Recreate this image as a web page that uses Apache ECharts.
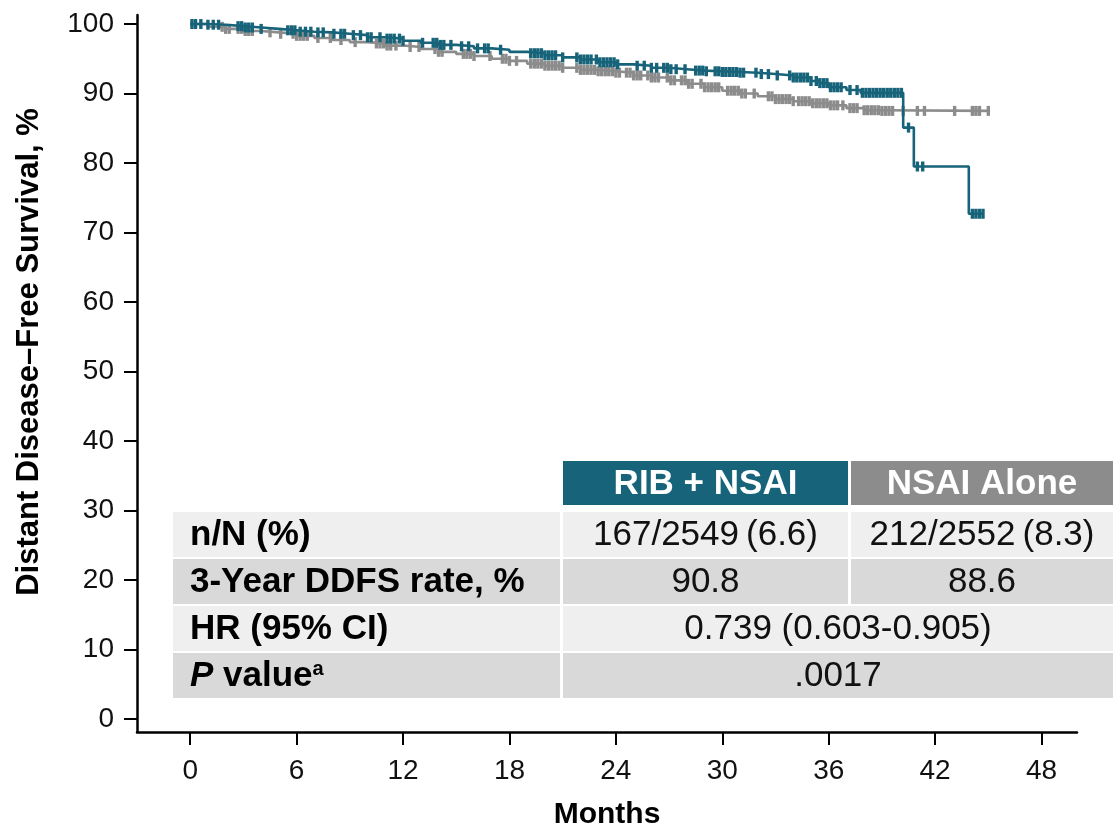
<!DOCTYPE html>
<html><head><meta charset="utf-8">
<script src="https://cdn.jsdelivr.net/npm/echarts@6/dist/echarts.min.js"></script>
<style>html,body{margin:0;padding:0;background:#fff}#c{width:1115px;height:825px}</style>
</head><body><div id="c"></div>
<script>
// ---------------- DATA ----------------
const monthTicks = [0, 6, 12, 18, 24, 30, 36, 42, 48];
const survivalTicks = [0, 10, 20, 30, 40, 50, 60, 70, 80, 90, 100];
const seriesNames = ['RIB + NSAI', 'NSAI Alone'];

// Kaplan-Meier steps [month, survival %] : RIB + NSAI
const ribNsaiSteps = [
  [0,100],[1,99.9],[2,99.7],[3,99.5],[4,99.3],[5,99.1],[6,98.9],[7,98.8],[8,98.6],[9,98.4],
  [10,98.1],[11,97.9],[12,97.6],[13,97.3],[14,97.0],[15,96.8],[16,96.5],[17,96.3],[18,96.0],
  [19,95.8],[20,95.5],[21,95.2],[22,94.9],[23,94.5],[24,94.2],[25,94.0],[26,93.7],[27,93.5],
  [28,93.3],[29,93.2],[30,93.1],[31,93.0],[32,92.8],[33,92.6],[34,92.3],[35,91.8],[35.5,91.5],
  [36,90.9],[37,90.5],[37.8,90.1],[40.2,85.1],[40.8,79.5],[43.9,72.7],[44.7,72.7]
];
// Kaplan-Meier steps [month, survival %] : NSAI Alone
const nsaiSteps = [
  [0,100],[1,99.6],[2,99.3],[3,99.0],[4,98.8],[5,98.6],[6,98.3],[7,98.0],[8,97.7],[9,97.4],
  [10,97.2],[11,96.9],[12,96.7],[13,96.4],[14,96.0],[15,95.7],[16,95.4],[17,95.0],[18,94.7],
  [19,94.3],[20,94.0],[21,93.7],[22,93.4],[23,93.2],[24,93.0],[25,92.6],[26,92.3],[27,91.9],
  [28,91.4],[29,90.9],[30,90.4],[31,90.0],[32,89.6],[33,89.2],[34,88.9],[35,88.6],[36,88.3],
  [37,87.9],[38,87.6],[39,87.5],[45.1,87.5]
];
// censor times (months)
const ribNsaiCensor = [
  0.1,0.3,0.6,1.0,1.3,1.6,2.7,2.9,3.1,3.3,3.5,4.0,5.5,5.7,5.9,6.2,6.5,6.8,7.2,7.5,8.1,
  8.5,8.7,9.2,9.6,10.0,10.2,10.7,11.1,11.3,11.5,11.8,12.0,13.1,13.7,13.9,14.1,14.3,14.7,
  15.3,15.7,16.2,16.6,16.8,17.5,19.2,19.4,19.6,19.8,20.0,20.2,20.4,20.6,21.0,21.8,22.0,
  22.2,22.4,22.6,22.9,23.1,23.3,23.5,23.7,23.9,24.1,25.2,25.6,26.0,26.3,26.7,26.9,27.1,
  27.4,27.9,28.5,28.7,28.9,29.1,29.6,29.8,30.0,30.2,30.4,30.6,30.8,31.0,31.2,31.9,32.2,
  32.6,33.1,33.8,34.0,34.2,34.4,34.6,34.8,35.0,35.3,35.5,35.7,35.9,36.1,36.3,36.5,36.7,
  37.2,37.6,37.9,38.1,38.3,38.5,38.7,38.9,39.1,39.3,39.5,39.7,39.9,40.1,40.5,41.0,41.3,
  44.1,44.3,44.5,44.7
];
const nsaiCensor = [
  1.8,2.0,2.2,2.7,2.9,3.1,3.3,3.5,4.5,5.1,5.8,6.0,6.2,6.4,6.6,7.2,7.9,8.5,9.3,10.5,10.7,
  10.9,11.1,11.3,11.6,12.4,12.9,13.8,14.0,14.2,15.4,15.6,15.8,16.0,16.9,17.6,17.8,18.0,
  18.4,19.2,19.4,19.6,19.8,20.0,20.2,20.4,20.6,20.8,21.0,21.8,22.0,22.2,22.4,22.6,22.8,
  23.0,23.2,23.4,23.6,23.8,24.0,24.2,24.6,24.8,25.0,25.2,25.4,25.8,26.0,26.2,26.4,26.9,
  27.1,27.3,27.7,27.9,28.1,28.3,28.8,29.0,29.2,29.4,29.6,29.8,30.3,30.5,30.7,30.9,31.1,
  31.3,31.8,32.6,32.8,33.0,33.2,33.4,33.6,33.8,34.0,34.3,34.5,34.7,34.9,35.1,35.3,35.5,
  35.7,35.9,36.1,36.3,36.5,36.8,37.2,37.4,37.6,38.0,38.2,38.4,38.6,38.8,39.0,39.2,39.4,
  39.6,40.2,41.0,41.4,43.1,44.1,44.3,44.5,45.0
];
// summary table
const tableHeaders = ['RIB + NSAI', 'NSAI Alone'];
const rowLabels = ['n/N (%)', '3-Year DDFS rate, %', 'HR (95% CI)', 'P value'];
const rowValues = [
  ['167/2549\u2009(6.6)', '212/2552\u2009(8.3)'],
  ['90.8', '88.6'],
  ['0.739 (0.603-0.905)'],
  ['.0017']
];
const xTitle = 'Months';
const yTitle = 'Distant Disease\u2013Free Survival, %';

// ---------------- HELPERS ----------------
function stepValue(steps, t) {
  let v = steps[0][1];
  for (const p of steps) { if (p[0] <= t) v = p[1]; else break; }
  return v;
}
const FONT = '"Liberation Sans", Arial, Helvetica, sans-serif';
const TEAL = '#17647a';
const GRAY = '#8c8c8c';
const TXT = 35;

// ---------------- TABLE (graphic) ----------------
const colX = [173, 563, 851];
const colW = [387, 285, 262];
const rowTop = [512, 559, 606, 653];
const rowH = 45;
const headTop = 461, headH = 44;
const rowFill = ['#efefef', '#d9d9d9', '#efefef', '#d9d9d9'];
const graphics = [];
[TEAL, GRAY].forEach((c, i) => {
  graphics.push({ type: 'rect', shape: { x: colX[i + 1], y: headTop, width: colW[i + 1], height: headH }, style: { fill: c }, silent: true });
  graphics.push({ type: 'text', x: colX[i + 1] + colW[i + 1] / 2, y: headTop + headH / 2 + 1,
    style: { text: tableHeaders[i], fill: '#fff', font: 'bold ' + TXT + 'px ' + FONT, align: 'center', verticalAlign: 'middle' }, silent: true });
});
rowLabels.forEach((lab, r) => {
  const y = rowTop[r];
  graphics.push({ type: 'rect', shape: { x: colX[0], y: y, width: colW[0], height: rowH }, style: { fill: rowFill[r] }, silent: true });
  if (r === 3) {
    graphics.push({ type: 'text', x: 190, y: y + rowH / 2 + 1, silent: true,
      style: { text: '{pi|P}{b| value}{sup|a}', align: 'left', verticalAlign: 'middle',
        rich: { pi: { font: 'italic bold ' + TXT + 'px ' + FONT, fill: '#000' }, b: { font: 'bold ' + TXT + 'px ' + FONT, fill: '#000' },
                sup: { font: 'bold 20px ' + FONT, fill: '#000', verticalAlign: 'top', padding: [0, 0, 12, 0] } } } });
  } else {
    graphics.push({ type: 'text', x: 190, y: y + rowH / 2 + 1, silent: true,
      style: { text: lab, fill: '#000', font: 'bold ' + TXT + 'px ' + FONT, align: 'left', verticalAlign: 'middle' } });
  }
  const vals = rowValues[r];
  if (vals.length === 2) {
    vals.forEach((v, k) => {
      graphics.push({ type: 'rect', shape: { x: colX[k + 1], y: y, width: colW[k + 1], height: rowH }, style: { fill: rowFill[r] }, silent: true });
      graphics.push({ type: 'text', x: colX[k + 1] + colW[k + 1] / 2, y: y + rowH / 2 + 1, silent: true,
        style: { text: v, fill: '#111', font: TXT + 'px ' + FONT, align: 'center', verticalAlign: 'middle' } });
    });
  } else {
    const w = colX[2] + colW[2] - colX[1];
    graphics.push({ type: 'rect', shape: { x: colX[1], y: y, width: w, height: rowH }, style: { fill: rowFill[r] }, silent: true });
    graphics.push({ type: 'text', x: colX[1] + w / 2, y: y + rowH / 2 + 1, silent: true,
      style: { text: vals[0], fill: '#111', font: TXT + 'px ' + FONT, align: 'center', verticalAlign: 'middle' } });
  }
});
// y-axis title
graphics.push({ type: 'text', x: 29, y: 352, rotation: Math.PI / 2, silent: true,
  style: { text: yTitle, fill: '#000', font: 'bold 31px ' + FONT, align: 'center', verticalAlign: 'middle' } });

// ---------------- CHART ----------------
const chart = echarts.init(document.getElementById('c'), null, { renderer: 'canvas' });
const censorSymbol = { symbol: 'rect', symbolSize: [3.4, 10] };
chart.setOption({
  animation: false,
  backgroundColor: '#fff',
  grid: { left: 137, right: 38, top: 15, bottom: 93, containLabel: false, outerBoundsMode: 'none' },
  xAxis: {
    type: 'value', min: -3, max: 50,
    name: xTitle, nameLocation: 'middle', nameGap: 68,
    nameTextStyle: { fontFamily: FONT, fontWeight: 'bold', fontSize: 30, color: '#000' },
    axisLine: { show: true, onZero: false, lineStyle: { color: '#000', width: 2.5 } },
    axisTick: { show: true, length: 13, inside: false, customValues: monthTicks, lineStyle: { color: '#000', width: 2 } },
    axisLabel: { customValues: monthTicks, fontFamily: FONT, fontSize: 28, color: '#111', margin: 25 },
    splitLine: { show: false }
  },
  yAxis: {
    type: 'value', min: -1.87, max: 101.3,
    axisLine: { show: true, onZero: false, lineStyle: { color: '#000', width: 2.5 } },
    axisTick: { show: true, length: 13, inside: false, customValues: survivalTicks, lineStyle: { color: '#000', width: 2 } },
    axisLabel: { customValues: survivalTicks, fontFamily: FONT, fontSize: 28, color: '#111', margin: 23 },
    splitLine: { show: false }
  },
  series: [
    { name: seriesNames[1], type: 'line', step: 'end', data: nsaiSteps, showSymbol: false,
      lineStyle: { color: GRAY, width: 2.6 }, itemStyle: { color: GRAY }, z: 2, silent: true },
    { name: seriesNames[1] + ' censored', type: 'scatter', data: nsaiCensor.map(t => [t, stepValue(nsaiSteps, t)]),
      ...censorSymbol, itemStyle: { color: GRAY, opacity: 1 }, z: 3, silent: true },
    { name: seriesNames[0], type: 'line', step: 'end', data: ribNsaiSteps, showSymbol: false,
      lineStyle: { color: TEAL, width: 2.6 }, itemStyle: { color: TEAL }, z: 4, silent: true },
    { name: seriesNames[0] + ' censored', type: 'scatter', data: ribNsaiCensor.map(t => [t, stepValue(ribNsaiSteps, t)]),
      ...censorSymbol, itemStyle: { color: TEAL, opacity: 1 }, z: 5, silent: true }
  ],
  graphic: graphics
});
</script>
</body></html>
